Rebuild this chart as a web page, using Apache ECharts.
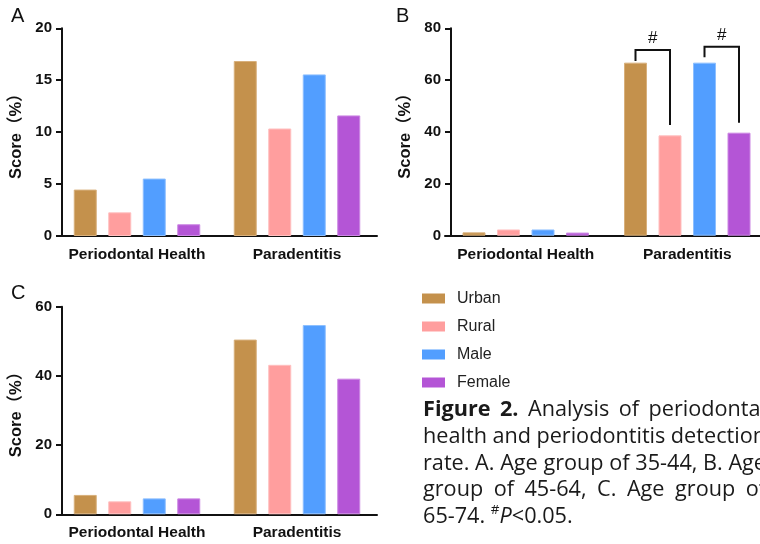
<!DOCTYPE html>
<html><head><meta charset="utf-8">
<script src="https://cdn.jsdelivr.net/npm/echarts@6/dist/echarts.min.js"></script>
<style>html,body{margin:0;padding:0;background:#fff}#c{width:760px;height:544px}</style>
</head><body><div id="c"></div>
<script>
// ---------- data ----------
const categories = ['Periodontal Health', 'Paradentitis'];
const seriesNames = ['Urban', 'Rural', 'Male', 'Female'];

const panelA_urban  = [4.47, 16.85];
const panelA_rural  = [2.28, 10.35];
const panelA_male   = [5.53, 15.56];
const panelA_female = [1.13, 11.61];

const panelB_urban  = [1.3, 66.75];
const panelB_rural  = [2.4, 38.7];
const panelB_male   = [2.4, 66.75];
const panelB_female = [1.2, 39.74];

const panelC_urban  = [5.6, 50.5];
const panelC_rural  = [3.75, 43.2];
const panelC_male   = [4.6, 54.7];
const panelC_female = [4.6, 39.2];

const yTicksA = [0, 5, 10, 15, 20];
const yTicksB = [0, 20, 40, 60, 80];
const yTicksC = [0, 20, 40, 60];

// significance brackets in panel B: [category index, bar A, bar B, top value, left end, right end]
const bracketsB = [
  [1, 0, 1, 71.6, 67.4, 42.7],
  [1, 2, 3, 72.9, 68.8, 43.6]
];
const bracketMark = '#';

const panelLabels = ['A', 'B', 'C'];
const yName = 'Score（%）';

const captionLines = [
  [{t:'Figure', b:1}, {t:'2.', b:1}, {t:'Analysis'}, {t:'of'}, {t:'periodontal'}],
  [{t:'health'}, {t:'and'}, {t:'periodontitis'}, {t:'detection'}],
  [{t:'rate.'}, {t:'A.'}, {t:'Age'}, {t:'group'}, {t:'of'}, {t:'35-44,'}, {t:'B.'}, {t:'Age'}],
  [{t:'group'}, {t:'of'}, {t:'45-64,'}, {t:'C.'}, {t:'Age'}, {t:'group'}, {t:'of'}],
  [{t:'65-74.'}, {t:'#', sup:1}, {t:'P', i:1}, {t:'<0.05.'}]
];

// ---------- style ----------
const colors  = ['#C4914C', '#FF9E9E', '#529EFF', '#B455D6'];
const borders = ['#D8B07C', '#FFBFBF', '#8DBFFF', '#CB86E3'];
const BAR_WIDTH = 23;
const BAR_GAP = 0.5;
const FONT = '"Liberation Sans", Arial, "Noto Sans CJK SC", sans-serif';
const INK = '#111';

const panelData = [
  [panelA_urban, panelA_rural, panelA_male, panelA_female],
  [panelB_urban, panelB_rural, panelB_male, panelB_female],
  [panelC_urban, panelC_rural, panelC_male, panelC_female]
];
const panelTicks = [yTicksA, yTicksB, yTicksC];

const grids = [
  {left: 57,  top: 28.3,  width: 320, height: 207.7, outerBoundsMode: 'none'},
  {left: 445, top: 28.3,  width: 323, height: 207.4, outerBoundsMode: 'none'},
  {left: 57,  top: 306.7, width: 320, height: 207.6, outerBoundsMode: 'none'}
];
const yOffsets = [-5, -6, -5];

const xAxes = grids.map((g, i) => ({
  type: 'category', gridIndex: i, data: categories,
  axisLine: {lineStyle: {color: INK, width: 2}},
  axisTick: {alignWithLabel: true, length: 6, lineStyle: {color: INK, width: 2}},
  axisLabel: {color: INK, fontFamily: FONT, fontWeight: 'bold', fontSize: 15.5, margin: 11, interval: 0},
  splitLine: {show: false}
}));
const yAxes = grids.map((g, i) => {
  const t = panelTicks[i];
  return {
    type: 'value', gridIndex: i, min: t[0], max: t[t.length - 1], interval: t[1] - t[0],
    offset: yOffsets[i],
    name: yName, nameLocation: 'middle', nameGap: 37, nameRotate: 90,
    nameTextStyle: {color: INK, fontFamily: FONT, fontWeight: 'bold', fontSize: 16.5},
    axisLine: {show: true, lineStyle: {color: INK, width: 2}},
    axisTick: {show: true, length: 6, lineStyle: {color: INK, width: 2}},
    axisLabel: {color: INK, fontFamily: FONT, fontWeight: 'bold', fontSize: 15, margin: 10},
    splitLine: {show: false}
  };
});

const series = [];
panelData.forEach((pd, gi) => {
  pd.forEach((vals, si) => {
    series.push({
      type: 'bar', name: seriesNames[si], xAxisIndex: gi, yAxisIndex: gi,
      data: vals, barWidth: BAR_WIDTH, barGap: (BAR_GAP * 100) + '%',
      itemStyle: {color: colors[si], borderColor: borders[si], borderWidth: 1},
      emphasis: {disabled: true}, animation: false
    });
  });
});
series.push({
  type: 'custom', xAxisIndex: 1, yAxisIndex: 1, data: bracketsB,
  encode: {x: 0, y: 3}, silent: true, animation: false, z: 5,
  renderItem: function (params, api) {
    const cat = api.value(0), ia = api.value(1), ib = api.value(2);
    const top = api.value(3), ly = api.value(4), ry = api.value(5);
    const c = api.coord([cat, top]);
    const pitch = BAR_WIDTH * (1 + BAR_GAP);
    const xa = c[0] + (ia - 1.5) * pitch, xb = c[0] + (ib - 1.5) * pitch;
    const yT = c[1], yL = api.coord([cat, ly])[1], yR = api.coord([cat, ry])[1];
    const yH = api.coord([cat, top + 4.4])[1];
    return {type: 'group', children: [
      {type: 'polyline', shape: {points: [[xa, yL], [xa, yT], [xb, yT], [xb, yR]]},
       style: {stroke: INK, lineWidth: 2, fill: null}},
      {type: 'text', style: {text: bracketMark, x: (xa + xb) / 2, y: yH, align: 'center',
       verticalAlign: 'middle', font: '17px ' + FONT, fill: INK}}
    ]};
  }
});

// ---------- caption layout ----------
const ctx = document.createElement('canvas').getContext('2d');
const CAP_FAMILY = '"Open Sans", "Noto Sans", sans-serif';
function capFont(tok, size) {
  const s = tok.sup ? size * 0.62 : size;
  return (tok.i ? 'italic ' : '') + (tok.b ? 'bold ' : '') + s.toFixed(2) + 'px ' + CAP_FAMILY;
}
function tw(text, font) { ctx.font = font; return ctx.measureText(text).width; }
const CAP_X0 = 423, CAP_W = 343;
let capSize = 20;
(function fit() {
  const l = captionLines[2];
  const w = l.reduce((a, tk) => a + tw(tk.t, capFont(tk, 20)), 0) + (l.length - 1) * tw(' ', capFont({}, 20));
  capSize = 20 * CAP_W / w;
})();
const graphics = [];
captionLines.forEach((line, li) => {
  const yMid = 410 + li * 26.7;
  const widths = line.map(tk => tw(tk.t, capFont(tk, capSize)));
  const sum = widths.reduce((a, b) => a + b, 0);
  const justify = li < captionLines.length - 1;
  const space = tw(' ', capFont({}, capSize));
  let x = CAP_X0;
  line.forEach((tk, k) => {
    graphics.push({type: 'text', x: x, y: tk.sup ? yMid - capSize * 0.32 : yMid,
      style: {text: tk.t, font: capFont(tk, capSize), fill: '#1a1a1a', align: 'left', verticalAlign: 'middle'}});
    let gap;
    if (justify) gap = (CAP_W - sum) / (line.length - 1);
    else gap = (k === 0) ? space : 0;
    x += widths[k] + gap;
  });
});
const labelPos = [[11, 6], [396, 6], [11, 283]];
panelLabels.forEach((t, i) => {
  graphics.push({type: 'text', x: labelPos[i][0], y: labelPos[i][1],
    style: {text: t, font: '20px ' + FONT, fill: INK, align: 'left', verticalAlign: 'top'}});
});

const chart = echarts.init(document.getElementById('c'), null, {renderer: 'canvas'});
chart.setOption({
  animation: false,
  backgroundColor: '#fff',
  grid: grids,
  xAxis: xAxes,
  yAxis: yAxes,
  legend: {
    data: seriesNames, orient: 'vertical', left: 417, top: 285.5, icon: 'rect',
    itemWidth: 23, itemHeight: 10, itemGap: 12,
    itemStyle: {borderWidth: 0},
    textStyle: {fontFamily: FONT, fontSize: 16, color: '#222', padding: [0, 0, 0, 7]},
    selectedMode: false
  },
  tooltip: {show: false},
  series: series,
  graphic: graphics
});
</script></body></html>
